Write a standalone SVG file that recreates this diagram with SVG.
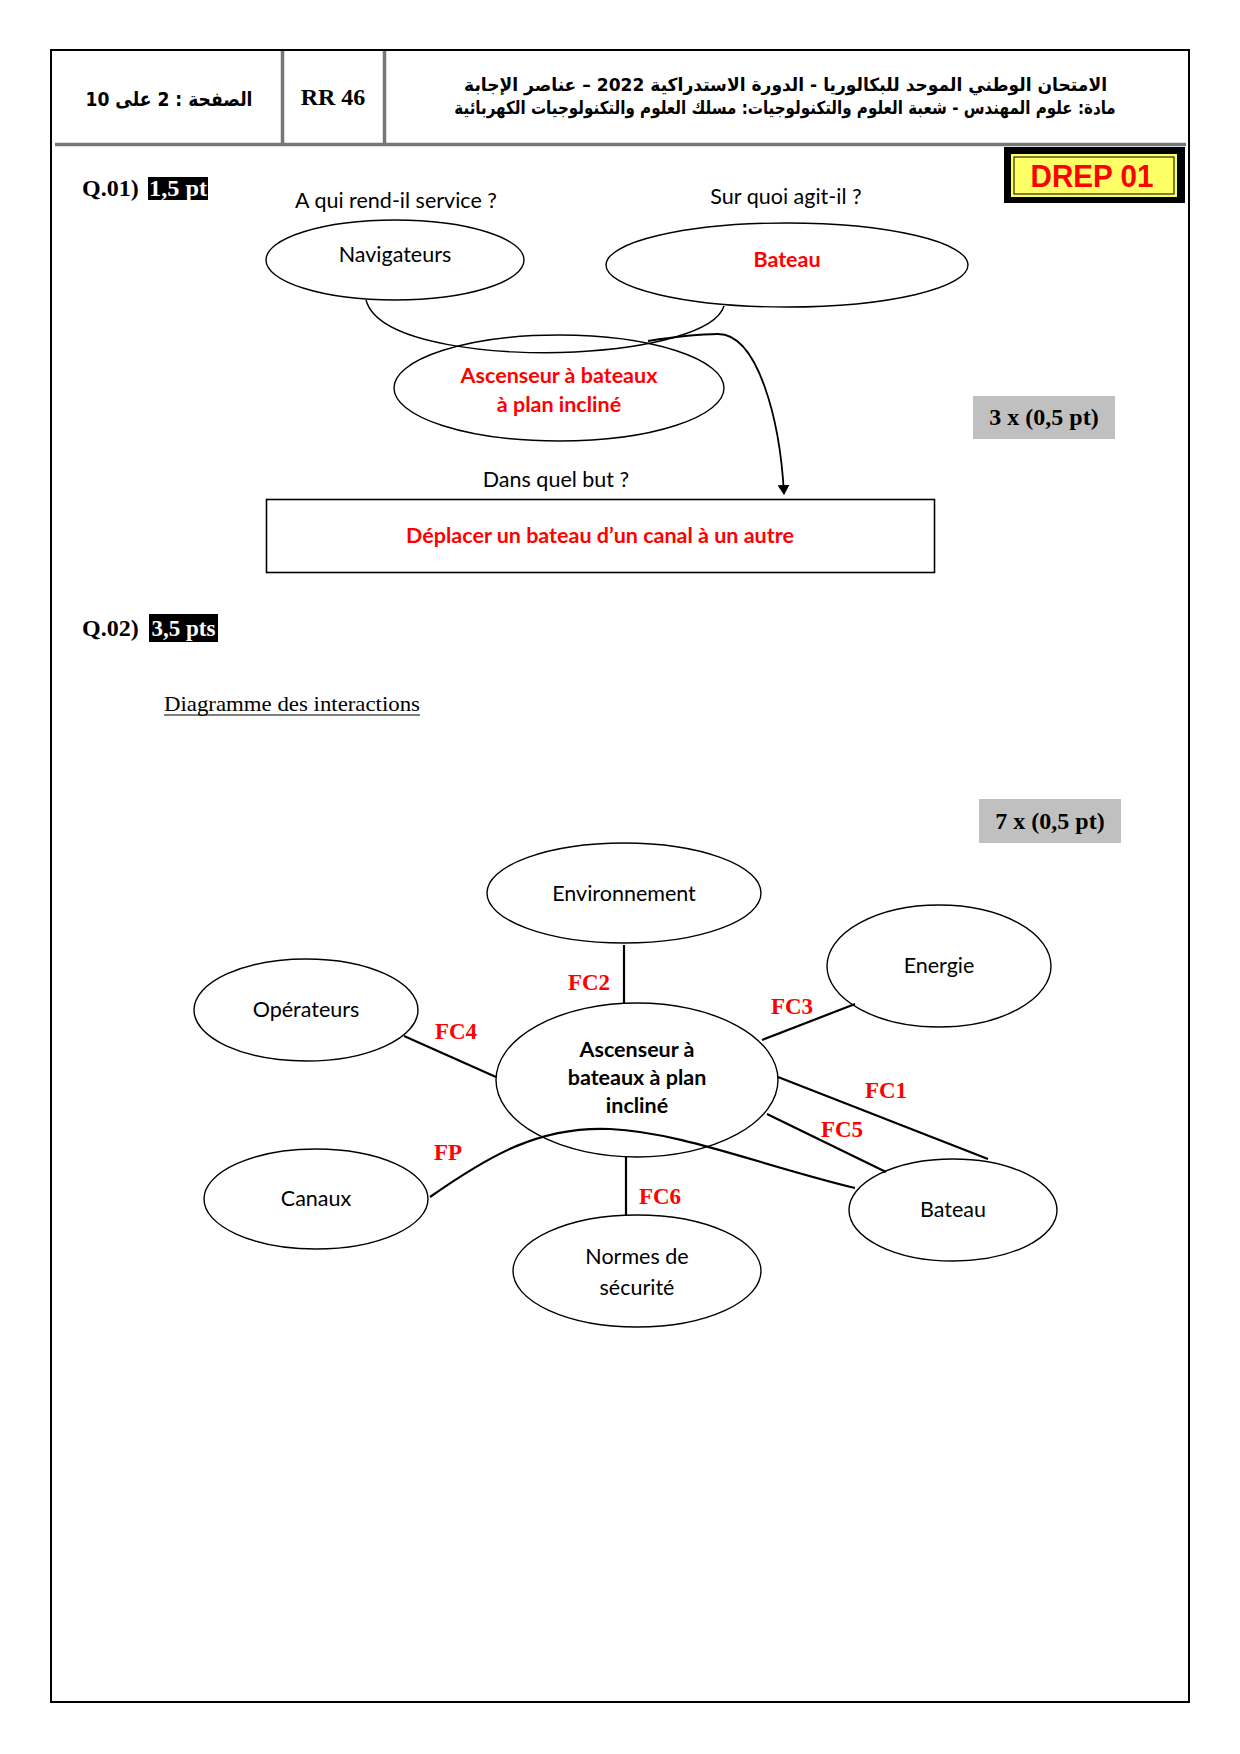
<svg xmlns="http://www.w3.org/2000/svg" width="1240" height="1754" viewBox="0 0 1240 1754">
<style>
.ell{fill:#fff;stroke:#000;stroke-width:1.4}
.ell2{fill:none;stroke:#000;stroke-width:1.4}
.lbl{font-family:Lato,"Open Sans",sans-serif;font-size:21.5px;text-anchor:middle;fill:#000}
.red{fill:#f00;font-weight:bold}
.bold{font-weight:bold}
.fc{font-family:"Liberation Serif",serif;font-weight:bold;font-size:23px;fill:#f00;text-anchor:middle}
.conn{stroke:#000;stroke-width:2.2;fill:none}
.tnr{font-family:"Liberation Serif",serif;font-weight:bold;font-size:24px;fill:#000}
.ar{font-family:"DejaVu Sans",sans-serif;font-weight:bold;fill:#000}
.hline{stroke:#777;stroke-width:3.5}
.badge{fill:#c0c0c0}
</style>
<defs>
<marker id="arr" markerWidth="10" markerHeight="12" refX="9" refY="6" orient="auto" markerUnits="userSpaceOnUse">
<path d="M0,0 L10,6 L0,12 z" fill="#000"/>
</marker>
</defs>
<rect width="1240" height="1754" fill="#fff"/>
<!-- page frame -->
<rect x="51" y="50" width="1138" height="1652" fill="none" stroke="#000" stroke-width="2"/>
<!-- header -->
<g id="header">
<line class="hline" x1="55" y1="144.5" x2="1186" y2="144.5"/>
<line class="hline" x1="282.5" y1="51" x2="282.5" y2="144"/>
<line class="hline" x1="384.5" y1="51" x2="384.5" y2="144"/>
<text class="ar" x="169" y="106" font-size="20" text-anchor="middle" direction="rtl" textLength="167" lengthAdjust="spacingAndGlyphs">الصفحة : 2 على 10</text>
<text class="tnr" x="333" y="105" font-size="20" text-anchor="middle">RR 46</text>
<text class="ar" transform="translate(785.5,91) scale(0.95,1)" x="0" y="0" font-size="18" text-anchor="middle" direction="rtl">الامتحان الوطني الموحد للبكالوريا  - الدورة الاستدراكية 2022 – عناصر الإجابة</text>
<text class="ar" transform="translate(785,114) scale(0.84,1)" x="0" y="0" font-size="18" text-anchor="middle" direction="rtl">مادة: علوم المهندس - شعبة العلوم والتكنولوجيات: مسلك العلوم والتكنولوجيات الكهربائية</text>
</g>
<!-- DREP -->
<g id="drep">
<rect x="1004" y="147" width="181" height="56" fill="#000"/>
<rect x="1011" y="154" width="166" height="43" fill="#ffff66"/>
<rect x="1014" y="157" width="160" height="37" fill="none" stroke="#000" stroke-width="1"/>
<text x="1092" y="187" font-family="Liberation Sans,sans-serif" font-weight="bold" font-size="31" fill="#f00" text-anchor="middle" textLength="123" lengthAdjust="spacingAndGlyphs">DREP 01</text>
</g>
<!-- Q.01 -->
<g id="q01">
<text class="tnr" x="82" y="196">Q.01)</text>
<rect x="148" y="177" width="60" height="23" fill="#000"/>
<text class="tnr" x="178" y="196" text-anchor="middle" style="fill:#fff" textLength="58" lengthAdjust="spacingAndGlyphs">1,5 pt</text>
</g>
<g id="q01-badge">
<rect class="badge" x="973" y="396" width="142" height="43"/>
<text class="tnr" x="1044" y="425" text-anchor="middle">3 x (0,5 pt)</text>
</g>
<g id="bete-labels">
<text class="lbl" x="396" y="208">A qui rend-il service ?</text>
<text class="lbl" x="786" y="204">Sur quoi agit-il ?</text>
<text class="lbl" x="556" y="487">Dans quel but ?</text>
</g>
<g id="connectors-q01">
<path class="ell2" d="M366,300 C378,345 500,356 575,352 C650,348 716,332 724,306"/>
<path class="conn" style="stroke-width:1.8" d="M648,341 C680,336 700,334 718,334 C758,334 780,420 784,494" marker-end="url(#arr)"/>
</g>
<g id="navigateurs">
<ellipse class="ell2" cx="395" cy="260" rx="129" ry="40"/>
<text class="lbl" x="395" y="262">Navigateurs</text>
</g>
<g id="bateau1">
<ellipse class="ell2" cx="787" cy="265" rx="181" ry="42"/>
<text class="lbl red" x="787" y="267">Bateau</text>
</g>
<g id="ascenseur1">
<ellipse class="ell2" cx="559" cy="388" rx="165" ry="53"/>
<text class="lbl red" x="559" y="383">Ascenseur à bateaux</text>
<text class="lbl red" x="559" y="412">à plan incliné</text>
</g>
<g id="but">
<rect x="266.5" y="499.5" width="668" height="73" fill="#fff" stroke="#000" stroke-width="1.6"/>
<text class="lbl red" x="600" y="543">Déplacer un bateau d’un canal à un autre</text>
</g>
<!-- Q.02 -->
<g id="q02">
<text class="tnr" x="82" y="636">Q.02)</text>
<rect x="149" y="614" width="69" height="28" fill="#000"/>
<text class="tnr" x="183.5" y="636" text-anchor="middle" style="fill:#fff" textLength="64" lengthAdjust="spacingAndGlyphs">3,5 pts</text>
<text x="164" y="711" font-family="Liberation Serif,serif" font-size="21.5" fill="#000" textLength="256" lengthAdjust="spacingAndGlyphs">Diagramme des interactions</text>
<line x1="164" y1="715" x2="420" y2="715" stroke="#000" stroke-width="1.2"/>
</g>
<g id="q02-badge">
<rect class="badge" x="979" y="799" width="142" height="44"/>
<text class="tnr" x="1050" y="829" text-anchor="middle">7 x (0,5 pt)</text>
</g>
<!-- connectors -->
<g id="connectors">
<line class="conn" x1="624" y1="945" x2="624" y2="1004"/>
<line class="conn" x1="762" y1="1040" x2="855" y2="1004"/>
<line class="conn" x1="404" y1="1036" x2="496" y2="1077"/>
<line class="conn" x1="778" y1="1077" x2="988" y2="1159"/>
<line class="conn" x1="767" y1="1114" x2="886" y2="1172"/>
<line class="conn" x1="626" y1="1157" x2="626" y2="1216"/>
<path class="conn" d="M430,1197 C490,1155 540,1126 610,1129 C680,1132 760,1165 855,1188"/>
<text class="fc" x="589" y="990">FC2</text>
<text class="fc" x="792" y="1014">FC3</text>
<text class="fc" x="456" y="1039">FC4</text>
<text class="fc" x="886" y="1098">FC1</text>
<text class="fc" x="842" y="1137">FC5</text>
<text class="fc" x="448" y="1160">FP</text>
<text class="fc" x="660" y="1204">FC6</text>
</g>
<g id="environnement">
<ellipse class="ell2" cx="624" cy="893" rx="137" ry="50"/>
<text class="lbl" x="624" y="901">Environnement</text>
</g>
<g id="energie">
<ellipse class="ell2" cx="939" cy="966" rx="112" ry="61"/>
<text class="lbl" x="939" y="973">Energie</text>
</g>
<g id="operateurs">
<ellipse class="ell2" cx="306" cy="1010" rx="112" ry="51"/>
<text class="lbl" x="306" y="1017">Opérateurs</text>
</g>
<g id="ascenseur2">
<ellipse class="ell2" cx="637" cy="1080" rx="141" ry="77"/>
<text class="lbl bold" x="637" y="1057">Ascenseur à</text>
<text class="lbl bold" x="637" y="1085">bateaux à plan</text>
<text class="lbl bold" x="637" y="1113">incliné</text>
</g>
<g id="canaux">
<ellipse class="ell2" cx="316" cy="1199" rx="112" ry="50"/>
<text class="lbl" x="316" y="1206">Canaux</text>
</g>
<g id="normes">
<ellipse class="ell2" cx="637" cy="1271" rx="124" ry="56"/>
<text class="lbl" x="637" y="1264">Normes de</text>
<text class="lbl" x="637" y="1295">sécurité</text>
</g>
<g id="bateau2">
<ellipse class="ell2" cx="953" cy="1210" rx="104" ry="51"/>
<text class="lbl" x="953" y="1217">Bateau</text>
</g>
</svg>
